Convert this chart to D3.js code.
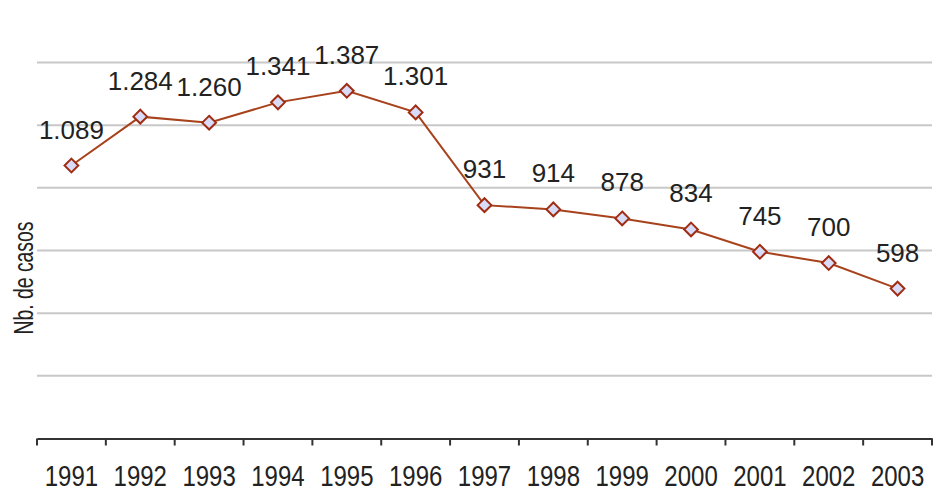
<!DOCTYPE html>
<html>
<head>
<meta charset="utf-8">
<script src="https://cdn.jsdelivr.net/npm/d3@7"></script>
<style>
  body { margin: 0; background: #fff; }
  svg { display: block; font-family: "Liberation Sans", Arial, sans-serif; }
</style>
</head>
<body>
<svg id="chart" width="936" height="492"></svg>
<script>
/* data */
const years = ["1991", "1992", "1993", "1994", "1995", "1996", "1997",
               "1998", "1999", "2000", "2001", "2002", "2003"];
const cases = [1089, 1284, 1260, 1341, 1387, 1301, 931, 914, 878, 834, 745, 700, 598];
const gridValues = [250, 500, 750, 1000, 1250, 1500];
const yTitle = "Nb. de casos";

const svg = d3.select("#chart");

const lineColor = "#a8421c";
const textColor = "#222";

/* spanish style thousands separator */
const fmt = d3.formatLocale({ decimal: ",", thousands: ".", grouping: [3], currency: ["", ""] }).format(",d");

/* scales */
var x = d3.scaleBand()
    .domain(years)
    .range([37, 932])
    .padding(0);

var y = d3.scaleLinear()
    .domain([0, 1500])
    .range([438.5, 62.5]);

const cx = d => x(d) + x.bandwidth() / 2;

/* grid lines */
svg.append("g")
    .attr("class", "grid")
    .selectAll("line")
    .data(gridValues)
    .enter()
    .append("line")
    .attr("x1", x.range()[0])
    .attr("x2", x.range()[1])
    .attr("y1", d => y(d))
    .attr("y2", d => y(d))
    .style("stroke", "#c8c8c8")
    .style("stroke-width", 2);

/* x axis: labels under each year, tick marks between years */
var xAxis = d3.axisBottom(x)
    .tickSize(0)
    .tickSizeOuter(0);

svg.append("g")
    .attr("class", "xAxis")
    .attr("transform", "translate(0," + y(0) + ")")
    .call(xAxis)
    .call(g => g.select(".domain")
        .style("stroke", "#333")
        .style("stroke-width", 2))
    .call(g => g.selectAll(".tick text")
        .attr("y", 0)
        .attr("dy", 0)
        .attr("transform", "translate(0,47) scale(1,1.2)")
        .style("font-size", "24px")
        .style("font-family", "'Liberation Sans', Arial, sans-serif")
        .style("fill", textColor));

const boundaries = years.map(d => x(d)).concat([x.range()[1]]);
svg.append("g")
    .attr("class", "xTicks")
    .selectAll("line")
    .data(boundaries)
    .enter()
    .append("line")
    .attr("x1", d => d)
    .attr("x2", d => d)
    .attr("y1", y(0))
    .attr("y2", y(0) + 7)
    .style("stroke", "#333")
    .style("stroke-width", 2);

/* y axis title (squeezed, as in the original) */
svg.append("text")
    .attr("class", "yTitle")
    .attr("transform", "translate(33,278) rotate(-90)")
    .attr("text-anchor", "middle")
    .attr("textLength", 113)
    .attr("lengthAdjust", "spacingAndGlyphs")
    .style("font-size", "27px")
    .style("fill", textColor)
    .text(yTitle);

/* series line */
const points = years.map((d, i) => ({ year: d, value: cases[i] }));

var line = d3.line()
    .x(d => cx(d.year))
    .y(d => y(d.value));

svg.append("path")
    .datum(points)
    .attr("class", "series")
    .attr("d", line)
    .style("fill", "none")
    .style("stroke", lineColor)
    .style("stroke-width", 2);

/* diamond markers */
svg.selectAll(".marker")
    .data(points)
    .enter()
    .append("path")
    .attr("class", "marker")
    .attr("d", d3.symbol().type(d3.symbolDiamond2).size(120))
    .attr("transform", d => "translate(" + cx(d.year) + "," + y(d.value) + ")")
    .style("fill", "#d8dcf8")
    .style("stroke", "#a02c12")
    .style("stroke-width", 2);

/* value labels */
svg.selectAll(".valueLabel")
    .data(points)
    .enter()
    .append("text")
    .attr("class", "valueLabel")
    .attr("x", d => cx(d.year))
    .attr("y", d => y(d.value) - 27)
    .attr("text-anchor", "middle")
    .style("font-size", "26px")
    .style("fill", textColor)
    .text(d => fmt(d.value));
</script>
</body>
</html>
